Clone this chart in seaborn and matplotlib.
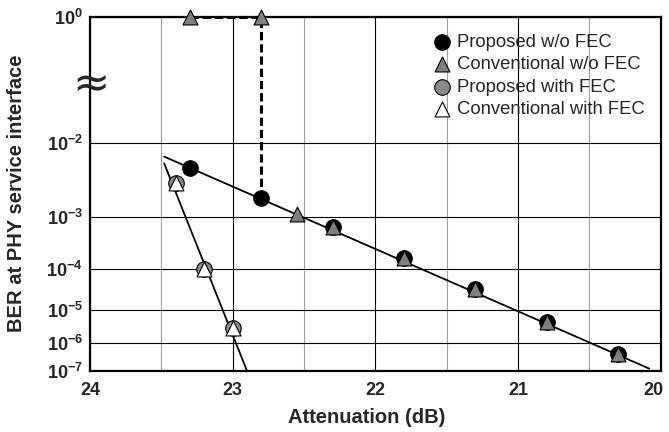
import numpy as np
import matplotlib
matplotlib.use('Agg')
import matplotlib.pyplot as plt
import matplotlib.transforms as mtransforms
import seaborn as sns

# values: attenuation (dB) and BER
prop_wo_x = [23.3, 22.8, 22.3, 21.8, 21.3, 20.8, 20.3]
prop_wo_ber = [5.1e-3, 2.0e-3, 6.6e-4, 1.74e-4, 3.35e-5, 4.3e-6, 4.1e-7]
conv_wo_x = [23.3, 22.8, 22.55, 22.3, 21.8, 21.3, 20.8, 20.3]
conv_wo_ber = [1.0, 1.0, 1.12e-3, 6.6e-4, 1.74e-4, 3.35e-5, 4.3e-6, 4.1e-7]
prop_fec_x = [23.4, 23.2, 23.0]
prop_fec_ber = [3.2e-3, 1.0e-4, 2.9e-6]
conv_fec_x = [23.4, 23.2, 23.0]
conv_fec_ber = [3.2e-3, 1.0e-4, 2.9e-6]

# fitted lines + dashed jump of the conventional scheme
fit_wo_x = [23.48, 20.08]
fit_wo_ber = [7.0e-3, 1.2e-7]
fit_fec_x = [23.48, 22.9]
fit_fec_ber = [5.8e-3, 1.0e-7]
jump_x = [23.3, 22.8, 22.8]
jump_ber = [1.0, 1.0, 2.0e-3]

x_ticks = [24, 23, 22, 21, 20]
x_labels = ['24', '23', '22', '21', '20']
y_ticks = [1e0, 1e-2, 1e-3, 1e-4, 1e-5, 1e-6, 1e-7]
y_labels = [r'$\mathbf{10^{0}}$', r'$\mathbf{10^{-2}}$', r'$\mathbf{10^{-3}}$',
            r'$\mathbf{10^{-4}}$', r'$\mathbf{10^{-5}}$', r'$\mathbf{10^{-6}}$',
            r'$\mathbf{10^{-7}}$']

# BER axis: -log(-log(BER)) below 1e-1, the range 1e-1..1 squeezed to the top (axis break)
EPS = 1e-3
def ber_fwd(y):
    y = np.asarray(y, dtype=float)
    with np.errstate(all='ignore'):
        ly = np.log10(np.clip(y, 1e-300, None))
        low = -np.log10(np.clip(-ly, 1.0, None))
        high = (ly + 1.0) * EPS
    return np.where(ly <= -1.0, low, high)

def ber_inv(f):
    f = np.asarray(f, dtype=float)
    with np.errstate(all='ignore'):
        low = 10.0 ** (-(10.0 ** (-np.minimum(f, 0.0))))
        high = 10.0 ** (np.clip(f, 0.0, 0.01) / EPS - 1.0)
    return np.where(f <= 0.0, low, high)

sns.set_style('white')
plt.rcParams['font.family'] = ['Liberation Sans', 'DejaVu Sans']
plt.rcParams['mathtext.fontset'] = 'custom'
plt.rcParams['mathtext.rm'] = 'Liberation Sans'
plt.rcParams['mathtext.bf'] = 'Liberation Sans:bold'

fig = plt.figure(figsize=(6.69, 4.32), dpi=100)
ax = fig.add_axes([0.1345, 0.1419, 0.8531, 0.8194])
ax.set_yscale('function', functions=(ber_fwd, ber_inv))
ax.set_xlim(24, 20)
ax.set_ylim(1e-7, 1.0)

sns.lineplot(x=fit_wo_x, y=fit_wo_ber, color='black', lw=1.3, sort=False,
             estimator=None, ax=ax, zorder=2)
sns.lineplot(x=fit_fec_x, y=fit_fec_ber, color='black', lw=1.3, sort=False,
             estimator=None, ax=ax, zorder=2)
sns.lineplot(x=jump_x, y=jump_ber, color='black', lw=2.2, sort=False,
             estimator=None, linestyle=(0, (2.7, 1.3)), clip_on=False, ax=ax, zorder=2)

sns.scatterplot(x=prop_wo_x, y=prop_wo_ber, marker='o', s=125, color='black',
                edgecolor='black', linewidth=0.8, label='Proposed w/o FEC',
                clip_on=False, zorder=3, ax=ax)
sns.scatterplot(x=conv_wo_x, y=conv_wo_ber, marker='^', s=115, color='#808080',
                edgecolor='black', linewidth=0.8, label='Conventional w/o FEC',
                clip_on=False, zorder=4, ax=ax)
sns.scatterplot(x=prop_fec_x, y=prop_fec_ber, marker='o', s=125, color='#8a8a8a',
                edgecolor='black', linewidth=0.8, label='Proposed with FEC',
                clip_on=False, zorder=3, ax=ax)
sns.scatterplot(x=conv_fec_x, y=conv_fec_ber, marker='^', s=115, color='white',
                edgecolor='black', linewidth=0.8, label='Conventional with FEC',
                clip_on=False, zorder=4, ax=ax)

ax.set_xticks(x_ticks)
ax.set_xticklabels(x_labels, fontsize=13, fontweight='bold')
ax.set_xticks([23.5, 22.5, 21.5, 20.5], minor=True)
ax.set_yticks(y_ticks)
ax.set_yticklabels(y_labels, fontsize=13)
ax.tick_params(axis='both', which='both', length=0)
ax.tick_params(axis='x', pad=8)
ax.tick_params(axis='y', pad=5)
# keep the last x label inside the figure, as in the original
last = ax.get_xticklabels()[-1]
last.set_transform(last.get_transform() +
                   mtransforms.ScaledTranslation(-5 / 72, 0, fig.dpi_scale_trans))
ax.grid(which='major', color='black', lw=0.8)
ax.grid(which='minor', axis='x', color='#a0a0a0', lw=0.8)
ax.set_axisbelow(True)
for sp in ax.spines.values():
    sp.set_color('black')
    sp.set_linewidth(1.6)
    sp.set_visible(True)

ax.set_xlabel('Attenuation (dB)', fontsize=14.5, fontweight='bold', va='center')
ax.xaxis.set_label_coords(0.485, -0.1336)
ax.set_ylabel('BER at PHY service interface', fontsize=14.5, fontweight='bold', va='center')
ax.yaxis.set_label_coords(-0.128, 0.5)

# axis break mark on the left spine
ax.text(0.002, 0.81, '\u2248', transform=ax.transAxes, fontsize=32,
        family='DejaVu Sans', ha='center', va='center', zorder=6)

handles, labels = ax.get_legend_handles_labels()
ax.legend(handles, labels, loc='upper left', bbox_to_anchor=(0.601, 0.952),
          frameon=False, fontsize=13.3, handlelength=1.0, handletextpad=0.3,
          labelspacing=0.3, borderaxespad=0, borderpad=0)

fig.savefig('out.png', dpi=100)
